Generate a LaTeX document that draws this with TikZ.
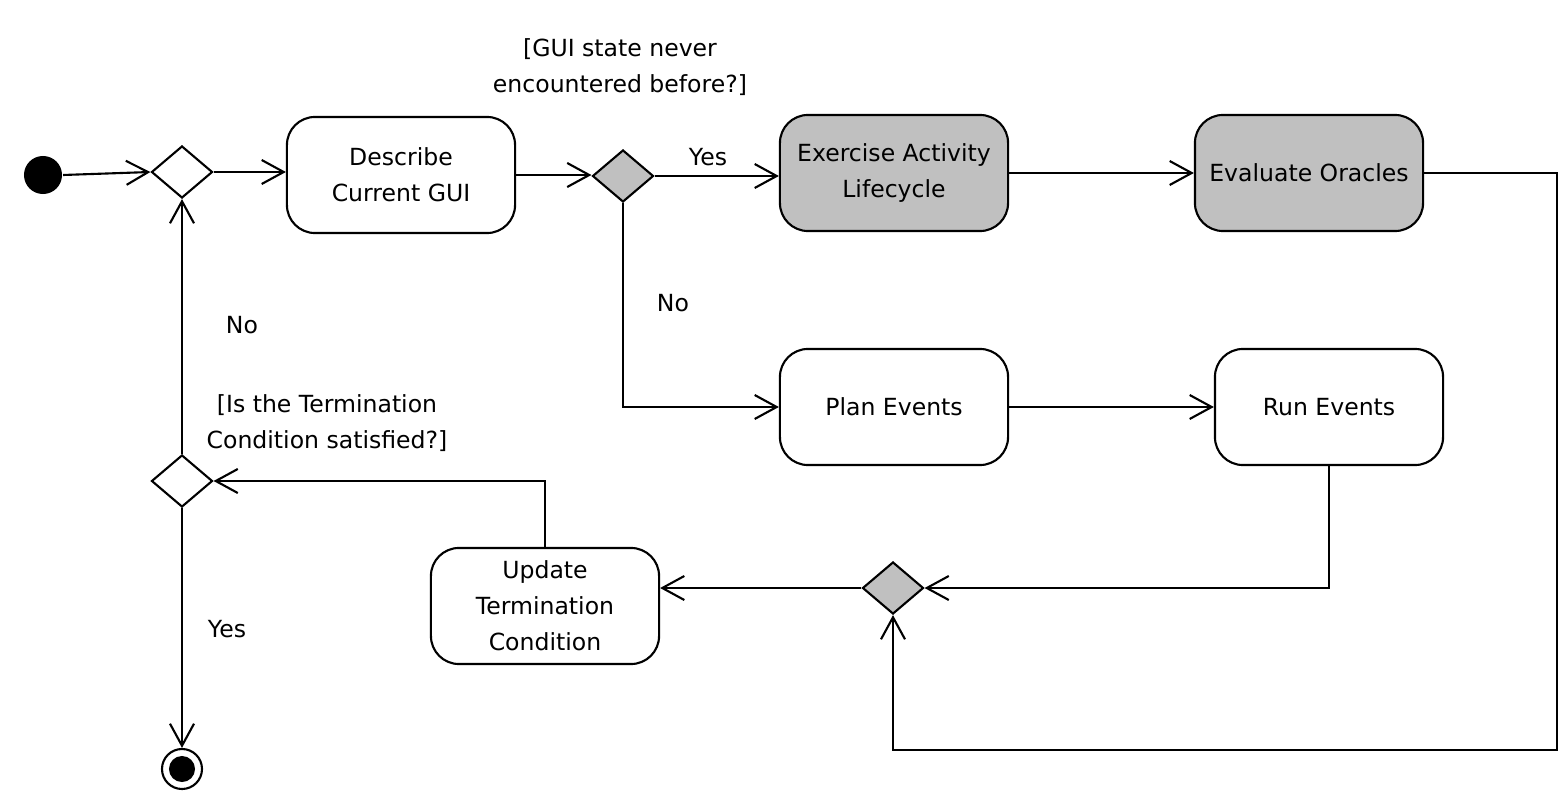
\documentclass[tikz,border=0pt]{standalone}
\usepackage{fontspec}
\setmainfont{DejaVu Sans}
\usetikzlibrary{arrows.meta,shapes.geometric}
\definecolor{actgray}{HTML}{C0C0C0}
\begin{document}
\begin{tikzpicture}[x=0.01cm,y=-0.01cm,
  font=\fontsize{6.7}{10.2}\selectfont,
  line width=0.6pt,
  action/.style={draw,rounded corners=0.28cm,minimum width=2.28cm,minimum height=1.16cm,align=center,inner sep=1pt},
  grayaction/.style={action,fill=actgray},
  decision/.style={draw,diamond,aspect=1.18,minimum width=0.61cm,minimum height=0.52cm,inner sep=0pt},
  graydecision/.style={decision,fill=actgray},
  flow/.style={-{Straight Barb[length=0.22cm,width=0.24cm]}},
  lbl/.style={align=center,inner sep=0pt}]
\useasboundingbox (0,0) rectangle (1563,791);

% start and end points
\node[circle,fill=black,minimum size=0.38cm,inner sep=0pt] (init) at (43,175) {};
\node[circle,draw,minimum size=0.40cm,inner sep=0pt] (final) at (182,769) {};
\fill (final.center) circle (0.13cm);

% decisions and merges
\node[decision] (d1) at (182,172) {};
\node[graydecision] (d2) at (623,176) {};
\node[graydecision] (m1) at (893,588) {};
\node[decision] (d3) at (182,481) {};

% actions
\node[action] (desc) at (401,175) {Describe\\Current GUI};
\node[grayaction] (exer) at (894,173) {Exercise Activity\\Lifecycle};
\node[grayaction] (eval) at (1309,173) {Evaluate Oracles};
\node[action] (plan) at (894,407) {Plan Events};
\node[action] (run) at (1329,407) {Run Events};
\node[action] (upd) at (545,606) {Update\\Termination\\Condition};

% loop corner
\coordinate (cR) at (1557,750);

% connectors
\draw[flow] (init.east) -- (d1.west);
\draw[flow] (d1.east) -- (d1.east -| desc.west);
\draw[flow] (desc.east) -- (desc.east -| d2.west);
\draw[flow] (d2.east) -- (d2.east -| exer.west);
\draw[flow] (exer.east) -- (exer.east -| eval.west);
\draw[flow] (eval.east) -| (cR) -| (m1.south);
\draw[flow] (d2.south) |- (plan.west);
\draw[flow] (plan.east) -- (plan.east -| run.west);
\draw[flow] (run.south) |- (m1.east);
\draw[flow] (m1.west) -- (m1.west -| upd.east);
\draw[flow] (upd.north) |- (d3.east);
\draw[flow] (d3.north) -- (d1.south);
\draw[flow] (d3.south) -- (final.north);

% guards and labels
\node[lbl] (g1) at (620,67) {[GUI state never\\encountered before?]};
\node[lbl] (yes1) at (708,157) {Yes};
\node[lbl] (no1) at (673,303) {No};
\node[lbl] (no2) at (242,325) {No};
\node[lbl] (g2) at (327,423) {[Is the Termination\\Condition satisfied?]};
\node[lbl] (yes2) at (227,629) {Yes};
\end{tikzpicture}
\end{document}
